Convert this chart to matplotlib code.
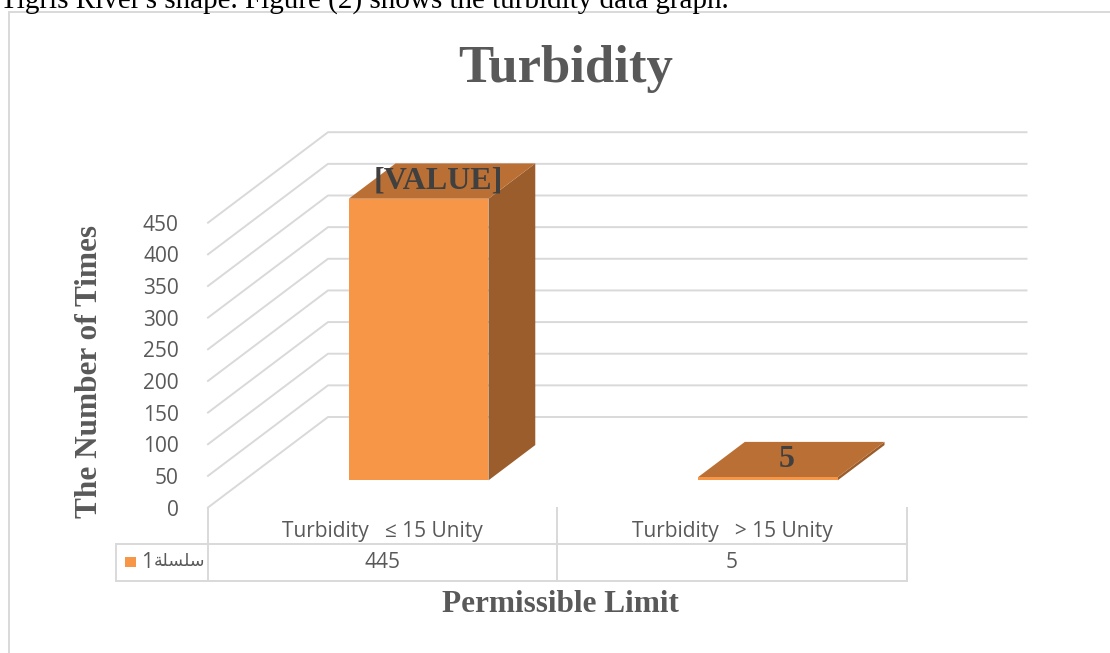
import matplotlib
matplotlib.use('Agg')
import matplotlib.pyplot as plt
from matplotlib.patches import Polygon, Rectangle
from matplotlib.lines import Line2D

# data
categories = ['Turbidity   \u2264 15 Unity', 'Turbidity   > 15 Unity']
counts = [445, 5]
value_labels = ['[VALUE]', '5']
yticks = [0, 50, 100, 150, 200, 250, 300, 350, 400, 450]
# series name "سلسلة1": the word in visual order with joined letter forms, then the number
series_word = '\ufe94\ufee0\ufeb4\ufee0\ufeb3'
series_num = '1'

W, H = 1110, 653
fig = plt.figure(figsize=(W / 100, H / 100), dpi=100)


def fx(x):
    return x / W


def fy(y):
    return 1 - y / H


grid_c = '#D9D9D9'
text_c = '#595959'
front_c, top_c, side_c = '#F79646', '#BA7035', '#9B5D2C'
sans = 'Open Sans'
serif = 'Liberation Serif'

# 3d depth offsets (data units) and bar depth
DX = 0.3436
DY = 143.0
d0, d1 = 0.30, 0.69
half = 0.2


def proj(x, v, d):
    return (x + d * DX, v + d * DY)


# main axes: front plane x 0..2, values 0..450
left, right, bottom, top = 208, 1026.5, 507.5, 132.2
ax = fig.add_axes([fx(left), fy(bottom), (right - left) / W, (bottom - top) / H])
ax.set_xlim(0, 2 + DX)
ax.set_ylim(0, 450 + DY)
for s in ax.spines.values():
    s.set_visible(False)
ax.set_xticks([])
ax.set_yticks(yticks)
ax.tick_params(axis='y', length=0, pad=21, labelsize=15, labelcolor=text_c)
for lab in ax.get_yticklabels():
    lab.set_family(sans)

# walls: side wall diagonals + back wall lines
for t in yticks:
    p0 = proj(0, t, 0)
    p1 = proj(0, t, 1)
    p2 = proj(2, t, 1)
    ax.add_line(Line2D([p0[0], p1[0], p2[0]], [p0[1], p1[1], p2[1]],
                       color=grid_c, lw=1.4, clip_on=False, zorder=1))

# bars
for i, v in enumerate(counts):
    c = i + 0.5
    xl, xr = c - half, c + half
    front = [proj(xl, 0, d0), proj(xr, 0, d0), proj(xr, v, d0), proj(xl, v, d0)]
    topf = [proj(xl, v, d0), proj(xr, v, d0), proj(xr, v, d1), proj(xl, v, d1)]
    side = [proj(xr, 0, d0), proj(xr, 0, d1), proj(xr, v, d1), proj(xr, v, d0)]
    ax.add_patch(Polygon(side, closed=True, fc=side_c, ec='none', zorder=3, clip_on=False))
    ax.add_patch(Polygon(topf, closed=True, fc=top_c, ec='none', zorder=3, clip_on=False))
    ax.add_patch(Polygon(front, closed=True, fc=front_c, ec='none', zorder=4, clip_on=False))
    lx, ly = proj(c, v, (d0 + d1) / 2)
    ax.text(lx - 0.012, ly, value_labels[i], ha='center', va='center', fontsize=23,
            family=serif, fontweight='bold', color='#404040', zorder=5)

# data table below the plot
t_left, t_right, t_top, t_bot = 116, 906.5, 507.5, 581
tx0 = (t_left - left) / 349.25
tab = fig.add_axes([fx(t_left), fy(t_bot), (t_right - t_left) / W, (t_bot - t_top) / H])
tab.set_xlim(tx0, 2)
tab.set_ylim(2, 0)
tab.axis('off')
lk = dict(color=grid_c, lw=1.4, clip_on=False)
for xv in [0, 1, 2]:
    tab.add_line(Line2D([xv, xv], [0, 2], **lk))
tab.add_line(Line2D([tx0, 2], [1, 1], **lk))
tab.add_line(Line2D([tx0, 2], [2, 2], **lk))
tab.add_line(Line2D([tx0, tx0], [1, 2], **lk))
for i, cat in enumerate(categories):
    tab.text(i + 0.5, 0.65, cat, ha='center', va='center', fontsize=15,
             family=sans, color=text_c)
    tab.text(i + 0.5, 1.5, str(counts[i]), ha='center', va='center', fontsize=15,
             family=sans, color=text_c)
tab.add_patch(Rectangle(((125 - left) / 349.25, 1.35), 11 / 349.25, 0.28,
                        fc=front_c, ec='none'))
tab.text((141 - left) / 349.25, 1.5, series_num, ha='left', va='center', fontsize=15,
         family=sans, color=text_c)
tab.text((154 - left) / 349.25, 1.45, series_word, ha='left', va='center', fontsize=12.6,
         family=['DejaVu Sans'], color=text_c)

# titles
fig.text(fx(566), fy(82), 'Turbidity', ha='center', va='baseline', fontsize=38,
         family=serif, fontweight='bold', color=text_c)
fig.text(fx(90), fy(372), 'The Number of Times', ha='center', va='center', rotation=90,
         fontsize=22.5, family=serif, fontweight='bold', color=text_c)
fig.text(fx(560), fy(605), 'Permissible Limit', ha='center', va='center',
         fontsize=22.5, family=serif, fontweight='bold', color=text_c)

# document text above the chart and the chart frame
fig.text(0, fy(7.5), "Tigris River's shape. Figure (2) shows the turbidity data graph.",
         ha='left', va='baseline', fontsize=21, family=serif, color='black')
fig.add_artist(Rectangle((fx(9), fy(H + 10)), (W + 10) / W, (H - 2) / H,
                         transform=fig.transFigure, fc='none', ec=grid_c, lw=1.4))

fig.savefig('out.png', dpi=100)
